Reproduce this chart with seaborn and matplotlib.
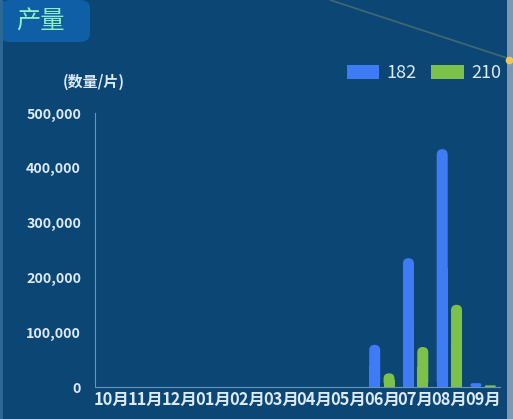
import matplotlib
matplotlib.use("Agg")
import matplotlib.pyplot as plt
import seaborn as sns
import pandas as pd
from matplotlib.patches import FancyBboxPatch, Rectangle
from matplotlib.ticker import FuncFormatter
from matplotlib.lines import Line2D

# Monthly output by product line
months = ["10月", "11月", "12月", "01月", "02月", "03月", "04月", "05月", "06月", "07月", "08月", "09月"]
series_182 = [0, 0, 0, 0, 0, 0, 0, 0, 77000, 235000, 434000, 7000]
series_210 = [0, 0, 0, 0, 0, 0, 0, 0, 25000, 73000, 150000, 3000]
series_names = ["182", "210"]
y_ticks = [0, 100000, 200000, 300000, 400000, 500000]

BG = "#0b4674"
TEXT = "#dce9f6"
COLORS = ["#3d7cf5", "#7cc24a"]

df = pd.DataFrame({
    "month": months * 2,
    "value": series_182 + series_210,
    "series": [series_names[0]] * len(months) + [series_names[1]] * len(months),
})

sns.set_theme(style="dark")
plt.rcParams["font.family"] = ["Noto Sans CJK SC", "DejaVu Sans"]

W, H = 513, 419
fig = plt.figure(figsize=(W / 100, H / 100), dpi=100, facecolor=BG)
ax_rect = [95 / W, 1 - 387 / H, 405 / W, 274 / H]
ax = fig.add_axes(ax_rect)
ax.set_facecolor(BG)

sns.barplot(data=df, x="month", y="value", hue="series", order=months,
            hue_order=series_names, palette=COLORS, width=0.85,
            dodge=True, legend=False, saturation=1, ax=ax)

ymax = 500000
ax.set_ylim(0, ymax)
ax.set_xlim(-0.5, len(months) - 0.5)

# data units per pixel along each axis
x_per_px = len(months) / 405
y_per_px = ymax / 274
aspect = y_per_px / x_per_px

# Replace the square bars with slim rounded-top bars
bar_w = 11 * x_per_px
for p in list(ax.patches):
    h = p.get_height()
    cx = p.get_x() + p.get_width() / 2
    col = p.get_facecolor()
    p.remove()
    if h <= 0:
        continue
    h_px = h / y_per_px
    r = min(bar_w / 2, h_px * x_per_px / 2)
    ax.add_patch(FancyBboxPatch((cx - bar_w / 2, 0), bar_w, h,
                                boxstyle=f"round,pad=0,rounding_size={r}",
                                mutation_aspect=aspect,
                                facecolor=col, edgecolor="none", zorder=3))
    if h_px > 11:
        ax.add_patch(Rectangle((cx - bar_w / 2, 0), bar_w, h / 2,
                               facecolor=col, edgecolor="none", zorder=3))

ax.set_yticks(y_ticks)
ax.yaxis.set_major_formatter(FuncFormatter(lambda v, _: f"{int(v):,}"))
ax.set_xlabel("")
ax.set_ylabel("")
ax.grid(False)
for s in ["top", "right"]:
    ax.spines[s].set_visible(False)
for s in ["left", "bottom"]:
    ax.spines[s].set_visible(True)
    ax.spines[s].set_color("#6f92b8")
    ax.spines[s].set_linewidth(0.8)
ax.tick_params(axis="both", length=0, colors=TEXT)
ax.tick_params(axis="x", pad=3)
ax.tick_params(axis="y", pad=10)
for lab in ax.get_xticklabels():
    lab.set_fontsize(11.8)
    lab.set_fontweight("bold")
    lab.set_color(TEXT)
for lab in ax.get_yticklabels():
    lab.set_fontsize(10.3)
    lab.set_fontweight("bold")
    lab.set_color(TEXT)

# Unit label above the value axis
fig.text(94 / W, 1 - 82 / H, "(数量/片)", color=TEXT, fontsize=10.8, ha="center", va="center",
         fontweight="bold")

# Legend
leg_handles = [Rectangle((0, 0), 1, 1, facecolor=c, edgecolor="none") for c in COLORS]
leg = fig.legend(leg_handles, series_names, loc="center right",
                 bbox_to_anchor=(501 / W, 1 - 73 / H), ncol=2, frameon=False,
                 handlelength=1.8, handleheight=0.85, handletextpad=0.4,
                 columnspacing=0.8, fontsize=13, borderpad=0, borderaxespad=0)
for t in leg.get_texts():
    t.set_color(TEXT)

# Panel title tab
tab = FancyBboxPatch((0.0, 1 - 42 / H), 90 / W, 42 / H, boxstyle="round,pad=0,rounding_size=0.02",
                     transform=fig.transFigure, facecolor="#0e5fa6", edgecolor="none")
fig.patches.append(tab)
fig.text(40 / W, 1 - 22 / H, "产量", color="#8ff0c8", fontsize=17.5, ha="center", va="center")

# Panel frame details
fig.patches.append(Rectangle((507 / W, 0), 6 / W, 1, transform=fig.transFigure,
                             facecolor="#8097ad", edgecolor="none"))
fig.patches.append(Rectangle((0.0, 0), 3 / W, 1, transform=fig.transFigure,
                             facecolor="#2c6795", edgecolor="none"))
fig.lines.append(Line2D([330 / W, 507 / W], [1.0, 1 - 58 / H], transform=fig.transFigure,
                        color="#8a9a70", linewidth=1.3, alpha=0.4))
fig.lines.append(Line2D([509 / W], [1 - 60 / H], transform=fig.transFigure, marker="o",
                        markersize=4.5, color="#f0c860", linestyle="none"))

fig.savefig("out.png", dpi=100, facecolor=BG)
